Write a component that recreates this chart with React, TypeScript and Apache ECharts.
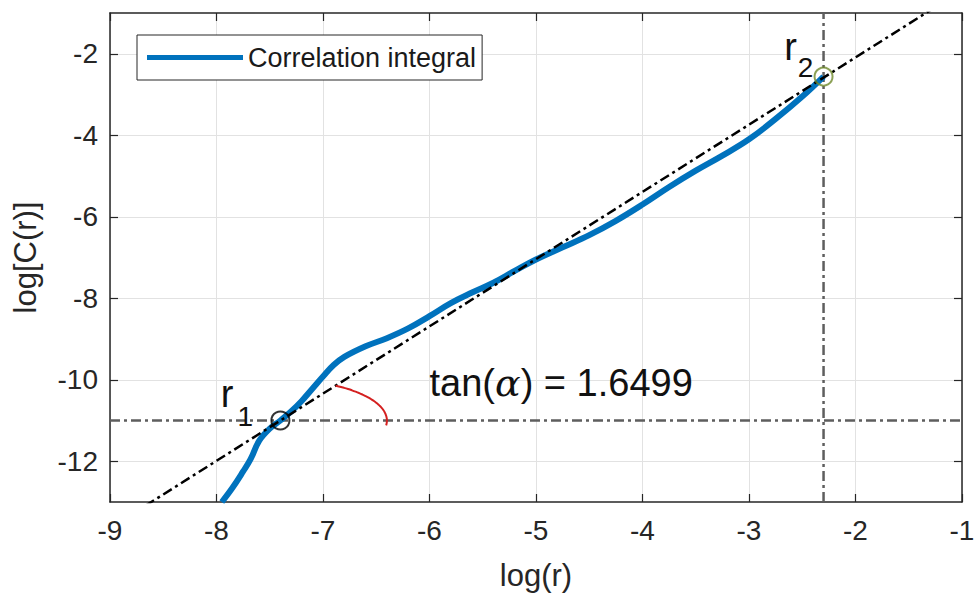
import React, { useEffect, useRef } from 'react';
import * as echarts from 'echarts';

// ---- data ----
const xTicks = [-9, -8, -7, -6, -5, -4, -3, -2, -1];
const yTicks = [-12, -10, -8, -6, -4, -2];

const logR = [-7.95, -7.85, -7.75, -7.68, -7.6, -7.5, -7.4, -7.3, -7.2, -7.1, -7.0, -6.9, -6.8, -6.6, -6.4, -6.2, -6.0, -5.8, -5.6, -5.4, -5.2, -5.0, -4.75, -4.5, -4.25, -4.0, -3.75, -3.5, -3.25, -3.0, -2.75, -2.5, -2.3];
const logC = [-13.0, -12.65, -12.25, -11.95, -11.5, -11.2, -11.0, -10.78, -10.52, -10.22, -9.92, -9.64, -9.44, -9.18, -8.98, -8.74, -8.44, -8.12, -7.86, -7.62, -7.33, -7.05, -6.75, -6.45, -6.1, -5.7, -5.27, -4.87, -4.5, -4.1, -3.6, -3.05, -2.56];

const slope = 1.6499;
const r1Point = [-7.4, -11];
const r2Point = [-2.3, -2.56];
const fitXEnds = [-9, -1];
const hLineY = -11;
const vLineX = -2.3;
const arcRadius = 1;
const arcEndAngle = -0.12;

const FONT = 'Liberation Sans, Arial, Helvetica, sans-serif';
const AXIS_COLOR = '#262626';

export default function App() {
  const ref = useRef<HTMLDivElement>(null);

  useEffect(() => {
    if (!ref.current) return;
    const chart = echarts.init(ref.current, undefined, { renderer: 'svg' });

    const curve = logR.map((x, i) => [x, logC[i]]);
    const fit = fitXEnds.map((x) => [x, r1Point[1] + slope * (x - r1Point[0])]);
    const a0 = Math.atan(slope);
    const arc: number[][] = [];
    const nArc = 24;
    for (let i = 0; i <= nArc; i++) {
      const a = a0 + (arcEndAngle - a0) * (i / nArc);
      arc.push([r1Point[0] + arcRadius * Math.cos(a), r1Point[1] + arcRadius * Math.sin(a)]);
    }

    const dashDot = [10, 4, 3, 4];
    const axisLine = { show: true, onZero: false, lineStyle: { color: AXIS_COLOR, width: 1.5 } };
    const tick = (vals?: number[]) => ({ show: true, inside: true, length: 8, lineStyle: { color: AXIS_COLOR, width: 1.2 }, ...(vals ? { customValues: vals } : {}) });

    const option: any = {
      animation: false,
      backgroundColor: '#ffffff',
      textStyle: { fontFamily: FONT },
      grid: { left: 110, right: 17, top: 13, bottom: 95, containLabel: false },
      legend: {
        data: ['Correlation integral'],
        left: 137,
        top: 35,
        orient: 'vertical',
        borderColor: AXIS_COLOR,
        borderWidth: 1,
        backgroundColor: '#ffffff',
        padding: [9, 6, 9, 10],
        itemWidth: 96,
        itemHeight: 5,
        icon: 'rect',
        textStyle: { fontSize: 27, color: '#1a1a1a', fontFamily: FONT },
      },
      xAxis: [
        {
          type: 'value', min: -9, max: -1, interval: 1, position: 'bottom',
          name: 'log(r)', nameLocation: 'middle', nameGap: 58,
          nameTextStyle: { fontSize: 31, color: AXIS_COLOR, fontFamily: FONT },
          axisLine, axisTick: tick(),
          axisLabel: { fontSize: 28, color: AXIS_COLOR, margin: 14, fontFamily: FONT, customValues: xTicks },
          splitLine: { show: true, lineStyle: { color: '#e2e2e2', width: 1 } },
        },
        {
          type: 'value', min: -9, max: -1, interval: 1, position: 'top',
          axisLine, axisTick: tick(), axisLabel: { show: false }, splitLine: { show: false },
        },
      ],
      yAxis: [
        {
          type: 'value', min: -13, max: -1, position: 'left',
          name: 'log[C(r)]', nameLocation: 'middle', nameGap: 69,
          nameTextStyle: { fontSize: 31, color: AXIS_COLOR, fontFamily: FONT },
          axisLine, axisTick: tick(yTicks),
          axisLabel: { fontSize: 28, color: AXIS_COLOR, margin: 12, fontFamily: FONT, customValues: yTicks },
          splitLine: { show: true, lineStyle: { color: '#e2e2e2', width: 1 } },
        },
        {
          type: 'value', min: -13, max: -1, position: 'right',
          axisLine, axisTick: tick(yTicks), axisLabel: { show: false, customValues: yTicks }, splitLine: { show: false },
        },
      ],
      series: [
        {
          name: 'Correlation integral', type: 'line', data: curve, smooth: 0.4,
          showSymbol: false, symbol: 'none', clip: true,
          lineStyle: { color: '#0072BD', width: 6 }, itemStyle: { color: '#0072BD' }, z: 3,
        },
        {
          name: 'fit', type: 'line', data: fit, showSymbol: false, symbol: 'none', clip: true,
          lineStyle: { color: '#000000', width: 2.5, type: dashDot }, z: 4,
        },
        {
          name: 'hline', type: 'line', data: [[-9, hLineY], [-1, hLineY]], showSymbol: false, symbol: 'none',
          lineStyle: { color: '#5e5e5e', width: 2.5, type: dashDot }, z: 2,
        },
        {
          name: 'vline', type: 'line', data: [[vLineX, -13], [vLineX, -1]], showSymbol: false, symbol: 'none',
          lineStyle: { color: '#5e5e5e', width: 2.5, type: dashDot }, z: 2,
        },
        {
          name: 'arc', type: 'line', data: arc, showSymbol: false, symbol: 'none', smooth: true,
          lineStyle: { color: '#d42020', width: 2 }, z: 4,
        },
        {
          name: 'r1', type: 'scatter', data: [r1Point], symbol: 'circle', symbolSize: 18,
          itemStyle: { color: 'rgba(0,0,0,0)', borderColor: '#000000', borderWidth: 2 }, z: 5,
        },
        {
          name: 'r2', type: 'scatter', data: [r2Point], symbol: 'circle', symbolSize: 18,
          itemStyle: { color: 'rgba(0,0,0,0)', borderColor: '#6f8a2c', borderWidth: 2 }, z: 5,
        },
      ],
    };
    chart.setOption(option);

    const px = (p: number[]) => chart.convertToPixel({ gridIndex: 0 }, p) as number[];
    const textEl = (p: number[], text: string, size: number, align = 'center') => {
      const [x, y] = px(p);
      return {
        type: 'text', x, y, z: 10,
        style: { text, fontSize: size, fontFamily: FONT, fill: '#111111', align, verticalAlign: 'middle' },
      };
    };
    const tanPos = px([-6.0, -10.07]);
    chart.setOption({
      graphic: [
        textEl([-7.9, -10.34], 'r', 38),
        textEl([-7.73, -10.91], '1', 28),
        textEl([-2.61, -1.83], 'r', 38),
        textEl([-2.47, -2.34], '2', 28),
        {
          type: 'text', x: tanPos[0], y: tanPos[1], z: 10,
          style: {
            text: 'tan({a|α}) = 1.6499',
            fontSize: 38, fontFamily: FONT, fill: '#111111', align: 'left', verticalAlign: 'middle',
            rich: { a: { fontSize: 38, fontFamily: 'DejaVu Serif, Liberation Serif, serif', fontStyle: 'italic', fill: '#111111' } },
          },
        },
      ],
    });

    return () => chart.dispose();
  }, []);

  return <div ref={ref} style={{ position: 'absolute', left: 0, top: 0, width: 979, height: 597 }} />;
}
